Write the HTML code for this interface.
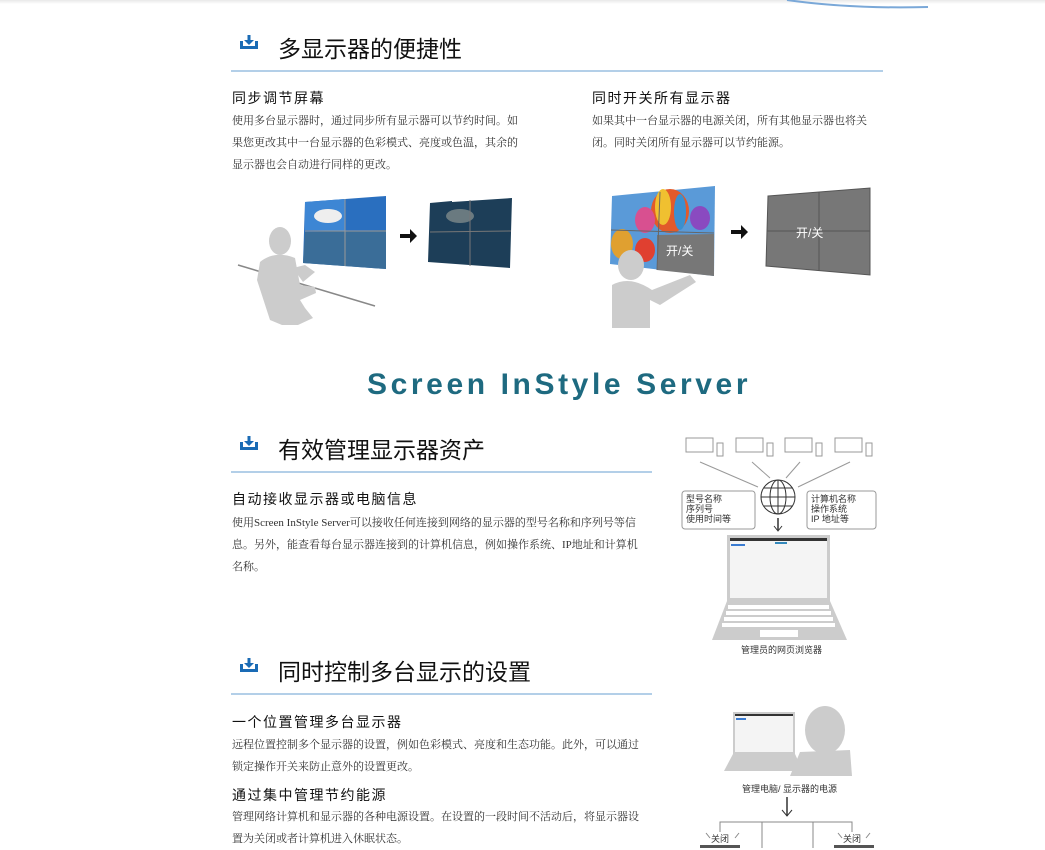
<!DOCTYPE html>
<html><head><meta charset="utf-8"><style>
body{margin:0;width:1045px;height:848px;background:#fff;position:relative;overflow:hidden;font-family:"Liberation Sans","Noto Sans CJK SC",sans-serif;color:#222}
.a{position:absolute;white-space:nowrap}
.h{font-size:23px;color:#111}
.s{font-size:14px;font-weight:normal;letter-spacing:1.5px;color:#111}
.p{font-size:11px;line-height:22px;color:#333;white-space:normal;font-family:"Liberation Serif","Noto Serif CJK SC",serif}
.ln{position:absolute;height:2px;background:#b3cfe8}
.cap{font-size:9px;color:#333}
</style></head><body>
<div class="a" style="left:0;top:0;width:1045px;height:4px;background:linear-gradient(#e8e8e8,#fff)"></div>
<svg class="a" style="left:0;top:0" width="1045" height="848">
<path d="M787 0 Q850 9 928 7" stroke="#7aa8d8" stroke-width="2" fill="none"/>
<g id="ic" fill="#1a6bb5">
<rect x="240" y="46" width="18" height="3"/><rect x="240" y="41" width="3" height="7"/><rect x="255" y="41" width="3" height="7"/>
<rect x="247.5" y="35" width="3" height="6"/><polygon points="244,40 254,40 249,45"/>
</g>
<use href="#ic" y="401"/><use href="#ic" y="623"/>
<line x1="238" y1="265" x2="375" y2="306" stroke="#888" stroke-width="1.5"/>
<ellipse cx="280" cy="241" rx="11" ry="14" fill="#ccc"/>
<path d="M260 262 Q275 250 295 258 L300 285 L315 287 L316 293 L300 300 L305 308 L313 318 L298 325 L282 325 L270 320 L257 280Z" fill="#ccc"/>
<path d="M293 268 L305 265 L315 272 L303 282Z" fill="#ccc"/>
<polygon points="305,202 386,196 386,269 303,263" fill="#2a6fbf"/>
<polygon points="305,202 345,199 345,231 305,230" fill="#3d86d4"/><ellipse cx="328" cy="216" rx="14" ry="7" fill="#eee"/>
<polygon points="305,232 386,230 386,269 303,263" fill="#3a6d98"/>
<line x1="345" y1="199" x2="345" y2="266" stroke="#999"/><line x1="305" y1="231" x2="386" y2="231" stroke="#999"/>
<polygon points="400,234 410,234 410,229 417,236 410,243 410,238 400,238" fill="#111"/>
<polygon points="430,203 452,201 452,202 452,202 512,198 510,268 428,262" fill="#1d3e58"/>
<ellipse cx="460" cy="216" rx="14" ry="7" fill="#6a7a80"/>
<line x1="470" y1="200" x2="470" y2="266" stroke="#777"/><line x1="430" y1="232" x2="511" y2="231" stroke="#777"/>
<polygon points="612,196 715,186 714,276 610,264" fill="#5a9ad8"/>
<ellipse cx="670" cy="211" rx="19" ry="22" fill="#e25a2a"/><ellipse cx="663" cy="207" rx="8" ry="18" fill="#f0c030"/><ellipse cx="680" cy="212" rx="6" ry="18" fill="#3a90d0"/>
<ellipse cx="645" cy="220" rx="10" ry="13" fill="#d85090"/><ellipse cx="700" cy="218" rx="10" ry="12" fill="#8a4ac0"/>
<ellipse cx="622" cy="244" rx="11" ry="15" fill="#e0a030"/><ellipse cx="645" cy="250" rx="10" ry="12" fill="#e04030"/>
<polygon points="657,235 714,234 714,276 657,270" fill="#777"/>
<line x1="660" y1="192" x2="657" y2="270" stroke="#666"/><line x1="611" y1="230" x2="714" y2="233" stroke="#666"/>
<ellipse cx="631" cy="265" rx="13" ry="15" fill="#ccc"/>
<path d="M612 285 Q630 275 652 290 L690 275 L696 282 L660 305 L650 300 L650 328 L612 328Z" fill="#ccc"/>
<polygon points="731,230 741,230 741,225 748,232 741,239 741,234 731,234" fill="#111"/>
<polygon points="768,196 870,188 870,275 766,266" fill="#777" stroke="#555"/>
<line x1="819" y1="192" x2="819" y2="271" stroke="#555"/><line x1="767" y1="231" x2="870" y2="231" stroke="#555"/>
<g fill="none" stroke="#999" stroke-width="1">
<rect x="686" y="438" width="27" height="14"/><rect x="717" y="443" width="6" height="13"/>
<rect x="736" y="438" width="27" height="14"/><rect x="767" y="443" width="6" height="13"/>
<rect x="785" y="438" width="27" height="14"/><rect x="816" y="443" width="6" height="13"/>
<rect x="835" y="438" width="27" height="14"/><rect x="866" y="443" width="6" height="13"/>
<line x1="700" y1="462" x2="758" y2="487"/><line x1="752" y1="462" x2="770" y2="478"/><line x1="800" y1="462" x2="786" y2="478"/><line x1="850" y1="462" x2="798" y2="487"/>
<rect x="682" y="491" width="73" height="38" rx="3"/><rect x="807" y="491" width="69" height="38" rx="3"/>
</g>
<g fill="none" stroke="#333" stroke-width="1"><circle cx="778" cy="497" r="17"/><ellipse cx="778" cy="497" rx="8" ry="17"/><line x1="761" y1="497" x2="795" y2="497"/><line x1="778" y1="480" x2="778" y2="514"/><line x1="764" y1="488" x2="792" y2="488"/><line x1="764" y1="506" x2="792" y2="506"/>
<line x1="778" y1="518" x2="778" y2="530" stroke-width="1.5"/><polyline points="774,526 778,531 782,526"/></g>
<rect x="727" y="535" width="103" height="66" fill="#ccc"/><rect x="730" y="538" width="97" height="60" fill="#f4f4f4"/>
<rect x="730" y="538" width="97" height="3" fill="#333"/><rect x="731" y="544" width="14" height="2" fill="#3a7bd0"/><rect x="775" y="542" width="12" height="2" fill="#38b"/>
<polygon points="727,601 830,601 847,640 712,640" fill="#ccc"/>
<g fill="#fff"><rect x="728" y="605" width="101" height="4"/><rect x="726" y="611" width="105" height="4"/><rect x="724" y="617" width="109" height="4"/><rect x="722" y="623" width="113" height="4"/><rect x="760" y="630" width="38" height="7"/></g>
<ellipse cx="825" cy="730" rx="20" ry="24" fill="#ccc"/><path d="M800 752 L850 750 L852 776 L790 776Z" fill="#ccc"/>
<rect x="733" y="712" width="62" height="42" fill="#ccc"/><rect x="735" y="714" width="58" height="38" fill="#f4f4f4"/><rect x="735" y="714" width="58" height="2" fill="#333"/><rect x="736" y="718" width="10" height="2" fill="#3a7bd0"/>
<polygon points="733,754 795,754 803,771 724,771" fill="#ccc"/>
<g stroke="#333" fill="none"><line x1="787" y1="797" x2="787" y2="816" stroke-width="1.5"/><polyline points="782,810 787,816 792,810"/></g>
<g stroke="#888" fill="none"><polyline points="720,832 720,822 852,822 852,832"/><line x1="762" y1="822" x2="762" y2="848"/><line x1="813" y1="822" x2="813" y2="848"/>
<line x1="706" y1="833" x2="710" y2="838"/><line x1="735" y1="838" x2="739" y2="833"/><line x1="838" y1="833" x2="842" y2="838"/><line x1="866" y1="838" x2="870" y2="833"/></g>
<rect x="700" y="845" width="40" height="3" fill="#555"/><rect x="834" y="845" width="40" height="3" fill="#555"/>
</svg>
<div class="a cap" style="left:711px;top:832px">关闭</div>
<div class="a cap" style="left:843px;top:832px">关闭</div>

<div class="a h" style="left:278px;top:30px">多显示器的便捷性</div>
<div class="ln" style="left:231px;top:70px;width:652px"></div>
<div class="a s" style="left:232px;top:88px">同步调节屏幕</div>
<div class="a p" style="left:232px;top:110px;width:286px">使用多台显示器时，通过同步所有显示器可以节约时间。如果您更改其中一台显示器的色彩模式、亮度或色温，其余的显示器也会自动进行同样的更改。</div>
<div class="a s" style="left:592px;top:88px">同时开关所有显示器</div>
<div class="a p" style="left:592px;top:110px;width:286px">如果其中一台显示器的电源关闭，所有其他显示器也将关闭。同时关闭所有显示器可以节约能源。</div>
<div class="a" style="left:666px;top:242px;color:#fff;font-size:12px">开/关</div>
<div class="a" style="left:796px;top:224px;color:#fff;font-size:12px">开/关</div>

<div class="a" style="left:367px;top:368px;font-size:30px;font-weight:bold;letter-spacing:3.6px;color:#1e6a80;font-family:'Liberation Sans',sans-serif">Screen InStyle Server</div>

<div class="a h" style="left:278px;top:431px">有效管理显示器资产</div>
<div class="ln" style="left:231px;top:471px;width:421px"></div>
<div class="a s" style="left:232px;top:489px">自动接收显示器或电脑信息</div>
<div class="a p" style="left:232px;top:512px;width:408px">使用Screen InStyle Server可以接收任何连接到网络的显示器的型号名称和序列号等信息。另外，能查看每台显示器连接到的计算机信息，例如操作系统、IP地址和计算机名称。</div>
<div class="a cap" style="left:686px;top:494px;line-height:10px;white-space:pre">型号名称
序列号
使用时间等</div>
<div class="a cap" style="left:811px;top:494px;line-height:10px;white-space:pre">计算机名称
操作系统
IP 地址等</div>
<div class="a cap" style="left:741px;top:643px">管理员的网页浏览器</div>

<div class="a h" style="left:278px;top:653px">同时控制多台显示的设置</div>
<div class="ln" style="left:231px;top:693px;width:421px"></div>
<div class="a s" style="left:232px;top:712px">一个位置管理多台显示器</div>
<div class="a p" style="left:232px;top:734px;width:408px">远程位置控制多个显示器的设置，例如色彩模式、亮度和生态功能。此外，可以通过锁定操作开关来防止意外的设置更改。</div>
<div class="a s" style="left:232px;top:785px">通过集中管理节约能源</div>
<div class="a p" style="left:232px;top:806px;width:408px">管理网络计算机和显示器的各种电源设置。在设置的一段时间不活动后，将显示器设置为关闭或者计算机进入休眠状态。</div>
<div class="a cap" style="left:742px;top:782px">管理电脑/ 显示器的电源</div>
</body></html>
